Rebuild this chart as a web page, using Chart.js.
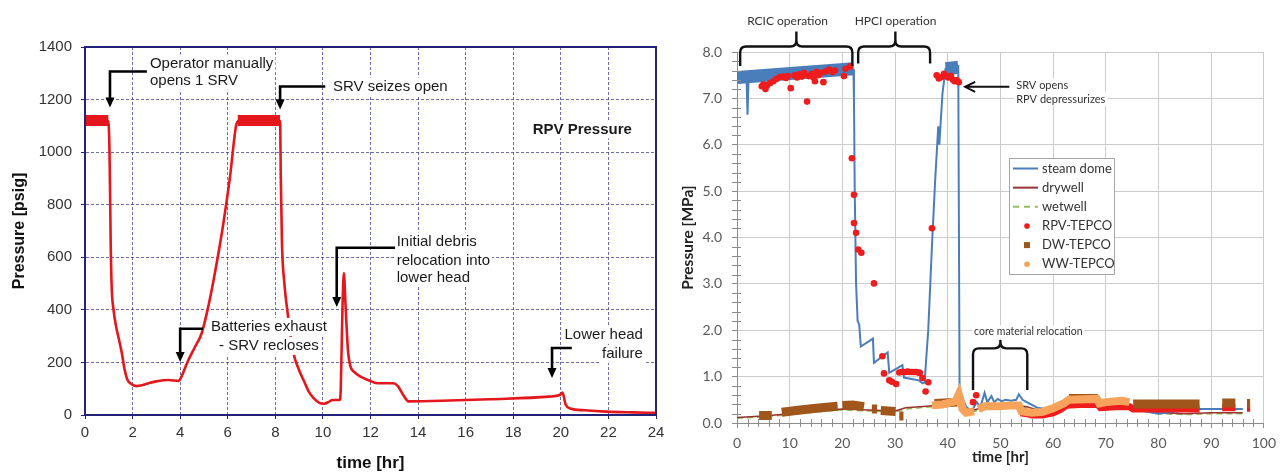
<!DOCTYPE html>
<html><head><meta charset="utf-8">
<script src="https://cdn.jsdelivr.net/npm/chart.js@4.4.1/dist/chart.umd.min.js"></script>
<style>
html,body{margin:0;padding:0;background:#fff;width:1283px;height:474px;overflow:hidden;}
#cL{position:absolute;left:0;top:0;}
#cR{position:absolute;left:670px;top:0;}
</style></head><body>
<canvas id="cL" width="670" height="474"></canvas>
<canvas id="cR" width="613" height="474"></canvas>
<script>
// ================= LEFT PANEL: RPV pressure [psig] vs time [hr] =================
const leftXTicks = [0,2,4,6,8,10,12,14,16,18,20,22,24];
const leftYTicks = [0,200,400,600,800,1000,1200,1400];
const leftTimeHr = [0,0.98,1.03,1.06,1.08,1.12,1.2,1.3,1.42,1.55,1.65,1.78,1.95,2.15,2.4,2.7,3.0,3.5,3.95,4.05,4.3,4.6,4.9,5.2,5.5,5.8,6.1,6.35,6.45,8.15,8.2,8.23,8.28,8.38,8.5,8.75,9.0,9.2,9.4,9.6,9.85,10.05,10.25,10.4,10.7,10.75,10.82,10.88,10.95,11.05,11.16,11.3,11.6,11.9,12.3,12.95,13.15,13.35,13.6,15,17,19.5,19.95,20.07,20.2,20.4,21,21.9,23,24];
const leftPsig   = [1118,1118,1000,800,650,490,400,340,290,235,180,135,118,110,113,122,128,133,130,145,200,255,310,420,560,720,910,1100,1118,1118,1118,900,650,500,400,240,170,130,90,65,46,43,50,57,57,100,400,540,420,250,184,165,145,133,121,121,110,80,52,54,60,70,76,85,40,25,18,13,10,8];
// noisy plateaus (drawn as a thick band)
const plateauTimeHr = [0,0.98,3,6.42,8.2];
const plateauPsig   = [1120,1120,null,1120,1120];

// left annotations (data coordinates)
const leftArrowCornerT = [1.05, 8.2, 4.0, 10.58, 19.63];
const leftArrowCornerP = [1307, 1250, 328, 636, 255];
const leftArrowEndT    = [2.6, 10.1, 4.96, 13.03, 20.46];
const leftArrowTipP    = [1170, 1162, 202, 411, 141];
const leftNoteLines = [["Operator manually","opens 1 SRV"],["SRV seizes open"],["RPV Pressure"],["Batteries exhaust","- SRV recloses"],["Initial debris","relocation into","lower head"],["Lower head","failure"]];
const leftNoteT     = [2.73, 10.42, 20.9, 7.73, 13.1, 23.45];
const leftNoteP     = [[1337,1272],[1250],[1086],[335,263],[660,588,522],[305,232]];
const leftNoteAlign = ['left','left','center','center','left','right'];
const leftNoteBold  = [false,false,true,false,false,false];

// ================= RIGHT PANEL: Pressure [MPa] vs time [hr] =================
const rightXTicks = [0,10,20,30,40,50,60,70,80,90,100];
const rightYTicks = [0,1,2,3,4,5,6,7,8];
const steamT = [0,0.5,0.8,1.2,1.8,2.0,2.2,3,10,20,22.1,22.2,22.35,22.6,22.9,23.2,23.5,25.8,26.0,28.6,28.9,31.4,31.7,34.5,35.2,35.6,36.3,37.0,37.6,38.2,38.4,39.0,39.6,42.0,42.1,42.25,42.6,43.5,44.5,45.5,46.2,47.0,47.5,48.3,48.8,49.5,50.2,51,52,53,53.5,54.2,55,57,60,65,70,75,80,87,96];
const steamP = [7.45,7.35,7.5,7.4,7.45,6.65,7.45,7.47,7.5,7.58,7.62,7.0,5.0,3.0,2.2,2.12,1.65,1.82,1.3,1.52,1.08,1.25,0.98,0.92,0.86,0.87,2.0,3.8,5.2,6.4,6.0,7.1,7.65,7.7,7.7,0.7,0.6,0.35,0.25,0.45,0.35,0.65,0.45,0.58,0.45,0.52,0.47,0.5,0.48,0.5,0.62,0.5,0.45,0.33,0.28,0.38,0.35,0.3,0.2,0.3,0.3];
const steamBandT = [0,22.1,30,39.6,42.0];
const steamBandP = [7.45,7.64,null,7.64,7.67];
const wellT     = [0,5,10,15,20,25,30,32,36,40,42,43,45,48,52,55,58,62,65,68,70,75,80,85,90,96];
const drywellP  = [0.12,0.15,0.2,0.26,0.3,0.28,0.26,0.33,0.36,0.4,0.5,0.3,0.28,0.38,0.4,0.35,0.25,0.38,0.5,0.48,0.42,0.38,0.22,0.2,0.22,0.22];
const wetwellP  = [0.1,0.13,0.18,0.24,0.28,0.26,0.24,0.3,0.34,0.38,0.45,0.28,0.25,0.35,0.37,0.33,0.22,0.35,0.48,0.45,0.4,0.35,0.2,0.18,0.2,0.2];
const rpvT = [4.7,5.0,5.4,5.7,6.3,6.9,7.5,8.1,8.7,9.3,9.6,10.2,10.9,11.4,11.8,12.3,12.7,13.3,13.6,14.2,14.5,14.8,15.1,15.4,15.9,16.4,16.8,17.5,18.1,18.6,20.3,20.6,21.5,
  21.8,22.2,22.2,22.6,23.0,23.6,26.0,27.6,27.9,28.9,29.4,30.2,
  30.8,31.2,31.6,32.0,32.4,32.8,33.2,33.6,34.0,34.4,34.7,35.2,35.8,36.3,37.0,
  37.9,38.3,38.8,39.3,39.7,40.1,40.6,41.0,41.3,41.7,42.1,44.8,45.4];
const rpvP = [7.26,7.3,7.2,7.28,7.33,7.37,7.42,7.46,7.47,7.44,7.48,7.22,7.5,7.45,7.52,7.47,7.55,6.93,7.48,7.53,7.45,7.37,7.57,7.5,7.55,7.35,7.58,7.62,7.57,7.6,7.48,7.64,7.69,
  5.71,4.92,4.31,4.1,3.74,3.67,3.01,1.44,1.07,0.92,0.89,0.84,
  1.09,1.1,1.1,1.1,1.11,1.1,1.1,1.1,1.1,1.09,1.08,0.97,0.68,0.88,4.2,
  7.5,7.43,7.46,7.53,7.48,7.45,7.48,7.4,7.37,7.39,7.35,0.45,0.6];
const rpvLateT = [53.8,55,56,58,60,61.5,62.5,65,68.5,69,72,74.5,75.2,87.8,90,92.1,94.6,95.5,96.8,97.4];
const rpvLateP = [0.22,0.2,0.17,0.17,0.22,0.3,0.38,0.4,0.4,0.33,0.35,0.35,0.3,0.3,null,0.33,0.33,null,0.32,0.32];
const dwT = [4.2,6.6,7.5,8.5,12,16,19.1,19.5,20.0,22,24.1,25,25.6,26.6,27,27.3,30.1,30.4,30.8,31.6,34,37.5,41.8,50,63,68.5,70,75.2,87.8,90,92.1,94.6,95.5,96.8,97.4];
const dwP = [0.16,0.16,null,0.23,0.28,0.33,0.36,null,0.38,0.39,0.35,null,0.3,0.3,null,0.27,0.25,null,0.15,0.15,null,0.42,0.45,null,0.53,0.53,null,0.41,0.41,null,0.43,0.43,null,0.42,0.42];
const wwT = [37,39,41.5,42.1,42.4,42.8,43.5,45,45.5,45.8,47,50,52,53.5,54,56,58,60,62,63,68.3,68.8,70,73,74.5];
const wwP = [0.38,0.4,0.47,0.62,0.5,0.3,0.22,0.25,null,0.3,0.36,0.36,0.38,0.38,0.25,0.22,0.24,0.32,0.42,0.5,0.52,0.42,0.45,0.48,0.45];

const legendNames = ['steam dome','drywell','wetwell','RPV-TEPCO','DW-TEPCO','WW-TEPCO'];
const C_STEAM = '#4a7ebb', C_DRY = '#943634', C_WET = '#9bbb59', C_RPV = '#ee1c1c', C_DW = '#a0561a', C_WW = '#f7a35c';

// right annotations (data coordinates)
const braceT0 = [0.6, 23.0, 44.8], braceT1 = [21.9, 36.65, 55.1], braceTc = [11.27, 30.06, 50.0];
const braceTop = [8.12, 8.12, 1.61], braceEnd = [7.7, 7.75, 0.71], bracePeak = [8.44, 8.44, 1.79];
const rightNoteLines = [["RCIC operation"],["HPCI operation"],["SRV opens","RPV depressurizes"],["core material relocation"]];
const rightNoteT = [9.6, 30.1, 53.0, 55.3];
const rightNoteP = [[8.67],[8.67],[7.27,6.98],[1.96]];
const rightNoteAlign = ['center','center','left','center'];
const rightNoteSize = [12, 12, 11, 10.5];
const srvArrowT = [51.7, 43.3], srvArrowP = 7.25;

const xy = (T, P) => T.map((t, i) => ({x: t, y: P[i]}));

function boxedText(ctx, lines, x, ys, align, font, color, size) {
  ctx.font = font; ctx.textAlign = align; ctx.textBaseline = 'middle';
  const h = size + 3;
  lines.forEach((s, i) => {
    const w = ctx.measureText(s).width;
    const l = align === 'left' ? x : (align === 'right' ? x - w : x - w / 2);
    ctx.fillStyle = '#fff'; ctx.fillRect(l - 2, ys[i] - h / 2, w + 4, h);
  });
  ctx.fillStyle = color;
  lines.forEach((s, i) => ctx.fillText(s, x, ys[i]));
}

// ---------- left plugin ----------
const leftDecor = {
  id: 'leftDecor',
  afterDraw(chart) {
    const {ctx, chartArea: a, scales: {x, y}} = chart;
    ctx.save();
    ctx.strokeStyle = '#23237a'; ctx.lineWidth = 2;
    ctx.strokeRect(a.left, a.top, a.right - a.left, a.bottom - a.top);
    leftNoteLines.forEach((lines, k) => {
      const f = (leftNoteBold[k] ? 'bold ' : '') + '15px "Liberation Sans", Arial, sans-serif';
      boxedText(ctx, lines, x.getPixelForValue(leftNoteT[k]), leftNoteP[k].map(p => y.getPixelForValue(p)), leftNoteAlign[k], f, '#1a1a1a', 15);
    });
    ctx.strokeStyle = '#000'; ctx.fillStyle = '#000'; ctx.lineWidth = 2.6; ctx.lineJoin = 'miter';
    leftArrowCornerT.forEach((tc, k) => {
      const xc = x.getPixelForValue(tc), yc = y.getPixelForValue(leftArrowCornerP[k]);
      const xe = x.getPixelForValue(leftArrowEndT[k]), yt = y.getPixelForValue(leftArrowTipP[k]);
      ctx.beginPath(); ctx.moveTo(xe, yc); ctx.lineTo(xc, yc); ctx.lineTo(xc, yt - 8); ctx.stroke();
      ctx.beginPath(); ctx.moveTo(xc - 4.5, yt - 10); ctx.lineTo(xc + 4.5, yt - 10); ctx.lineTo(xc, yt); ctx.closePath(); ctx.fill();
    });
    ctx.restore();
  }
};

// ---------- right plugin ----------
const rightDecor = {
  id: 'rightDecor',
  afterDraw(chart) {
    const {ctx, chartArea: a, scales: {x, y}} = chart;
    ctx.save();
    ctx.strokeStyle = '#8c8c8c'; ctx.lineWidth = 1; ctx.beginPath();
    for (let v = 2; v < 100; v += 2) { if (v % 10 === 0) continue; const px = Math.round(x.getPixelForValue(v)) + 0.5; ctx.moveTo(px, a.bottom - 4); ctx.lineTo(px, a.bottom + 4); }
    for (let k = 1; k < 40; k++) { if (k % 5 === 0) continue; const py = Math.round(y.getPixelForValue(k * 0.2)) + 0.5; ctx.moveTo(a.left - 5, py); ctx.lineTo(a.left + 4, py); }
    ctx.stroke();
    rightNoteLines.forEach((lines, k) => {
      const f = rightNoteSize[k] + 'px Lato, "Open Sans", sans-serif';
      boxedText(ctx, lines, x.getPixelForValue(rightNoteT[k]), rightNoteP[k].map(p => y.getPixelForValue(p)), rightNoteAlign[k], f, '#333', rightNoteSize[k]);
    });
    ctx.strokeStyle = '#111'; ctx.lineWidth = 2.4; ctx.lineCap = 'butt';
    braceT0.forEach((t0, k) => {
      const x0 = x.getPixelForValue(t0), x1 = x.getPixelForValue(braceT1[k]), xc = x.getPixelForValue(braceTc[k]);
      const yT = y.getPixelForValue(braceTop[k]), yE = y.getPixelForValue(braceEnd[k]), yP = y.getPixelForValue(bracePeak[k]);
      const r = 6;
      ctx.beginPath();
      ctx.moveTo(x0, yE); ctx.lineTo(x0, yT + r); ctx.quadraticCurveTo(x0, yT, x0 + r, yT);
      ctx.lineTo(xc - r, yT); ctx.quadraticCurveTo(xc, yT, xc, yT - r); ctx.lineTo(xc, yP);
      ctx.moveTo(x1, yE); ctx.lineTo(x1, yT + r); ctx.quadraticCurveTo(x1, yT, x1 - r, yT);
      ctx.lineTo(xc + r, yT); ctx.quadraticCurveTo(xc, yT, xc, yT - r);
      ctx.stroke();
    });
    const ax0 = x.getPixelForValue(srvArrowT[0]), ax1 = x.getPixelForValue(srvArrowT[1]), ay = y.getPixelForValue(srvArrowP);
    ctx.lineWidth = 2;
    ctx.beginPath(); ctx.moveTo(ax0, ay); ctx.lineTo(ax1, ay);
    ctx.moveTo(ax1 + 10, ay - 5); ctx.lineTo(ax1, ay); ctx.lineTo(ax1 + 10, ay + 5); ctx.stroke();
    const bx = a.left + 272, by = a.top + 106, bw = 105, bh = 116;
    ctx.fillStyle = '#fff'; ctx.fillRect(bx, by, bw, bh);
    ctx.strokeStyle = '#a6a6a6'; ctx.lineWidth = 1; ctx.strokeRect(bx + 0.5, by + 0.5, bw, bh);
    const colors = [C_STEAM, C_DRY, C_WET, C_RPV, C_DW, C_WW];
    legendNames.forEach((name, i) => {
      const ry = by + 10.5 + i * 19.15;
      ctx.setLineDash([]);
      if (i < 3) {
        ctx.strokeStyle = colors[i]; ctx.lineWidth = 2;
        if (i === 2) ctx.setLineDash([6, 5]);
        ctx.beginPath(); ctx.moveTo(bx + 4, ry); ctx.lineTo(bx + 29, ry); ctx.stroke();
        ctx.setLineDash([]);
      } else if (i === 4) {
        ctx.fillStyle = colors[i]; ctx.fillRect(bx + 15, ry - 3, 6, 6);
      } else {
        ctx.fillStyle = colors[i]; ctx.beginPath(); ctx.arc(bx + 18, ry, 2.8, 0, Math.PI * 2); ctx.fill();
      }
      ctx.fillStyle = '#333'; ctx.font = '13px Lato, "Open Sans", sans-serif'; ctx.textAlign = 'left'; ctx.textBaseline = 'middle';
      ctx.fillText(name, bx + 33, ry);
    });
    ctx.restore();
  }
};

// ---------- left chart ----------
new Chart(document.getElementById('cL'), {
  type: 'line',
  data: {
    datasets: [
      {data: xy(leftTimeHr, leftPsig), borderColor: '#e3171c', borderWidth: 2.6, pointRadius: 0, cubicInterpolationMode: 'monotone', fill: false},
      {data: xy(plateauTimeHr, plateauPsig), borderColor: '#e3171c', borderWidth: 11, pointRadius: 0, borderCapStyle: 'butt', fill: false, spanGaps: false}
    ]
  },
  options: {
    responsive: false, animation: false,
    layout: {padding: {top: 47, right: 14, left: 0, bottom: 0}},
    plugins: {legend: {display: false}, tooltip: {enabled: false}},
    scales: {
      x: {
        type: 'linear', min: 0, max: 24,
        afterBuildTicks: s => { s.ticks = leftXTicks.map(v => ({value: v})); },
        afterFit: s => { s.height = 59; },
        grid: {color: 'rgba(60,60,150,0.75)', lineWidth: 1, tickLength: 4, tickColor: '#23237a'},
        border: {color: '#23237a', width: 2, dash: [3, 2]},
        ticks: {autoSkip: false, maxRotation: 0, padding: 5, color: '#333', font: {family: '"Liberation Sans", Arial, sans-serif', size: 15}, callback: v => String(v)},
        title: {display: true, text: 'time [hr]', color: '#111', padding: {top: 0, bottom: 0}, font: {family: '"Liberation Sans", Arial, sans-serif', size: 17, weight: 'bold'}}
      },
      y: {
        type: 'linear', min: 0, max: 1400,
        afterBuildTicks: s => { s.ticks = leftYTicks.map(v => ({value: v})); },
        afterFit: s => { s.width = 85; },
        grid: {color: 'rgba(60,60,150,0.75)', lineWidth: 1, tickLength: 4, tickColor: '#23237a'},
        border: {color: '#23237a', width: 2, dash: [3, 2]},
        ticks: {autoSkip: false, padding: 9, color: '#333', font: {family: '"Liberation Sans", Arial, sans-serif', size: 15}, callback: v => String(v)},
        title: {display: true, text: 'Pressure [psig]', color: '#111', padding: {top: 10, bottom: 0}, font: {family: '"Liberation Sans", Arial, sans-serif', size: 16, weight: 'bold'}}
      }
    }
  },
  plugins: [leftDecor]
});

// ---------- right chart ----------
new Chart(document.getElementById('cR'), {
  type: 'line',
  data: {
    datasets: [
      {label: 'RPV-TEPCO', data: xy(rpvT, rpvP), showLine: false, pointRadius: 3.3, pointBorderWidth: 0, pointBackgroundColor: C_RPV, order: 0},
      {label: 'WW-TEPCO', data: xy(wwT, wwP), borderColor: C_WW, borderWidth: 8, pointRadius: 0, borderCapStyle: 'butt', spanGaps: false, order: 1},
      {label: 'DW-TEPCO', data: xy(dwT, dwP), borderColor: C_DW, borderWidth: 9, pointRadius: 0, borderCapStyle: 'butt', spanGaps: false, order: 2},
      {label: 'RPV-TEPCO late', data: xy(rpvLateT, rpvLateP), borderColor: C_RPV, borderWidth: 7, pointRadius: 0, borderCapStyle: 'butt', spanGaps: false, order: 3},
      {label: 'steam dome', data: xy(steamT, steamP), borderColor: C_STEAM, borderWidth: 2, pointRadius: 0, order: 4},
      {label: 'steam band', data: xy(steamBandT, steamBandP), borderColor: C_STEAM, borderWidth: 13, pointRadius: 0, borderCapStyle: 'butt', spanGaps: false, order: 5},
      {label: 'drywell', data: xy(wellT, drywellP), borderColor: C_DRY, borderWidth: 1.5, pointRadius: 0, order: 6},
      {label: 'wetwell', data: xy(wellT, wetwellP), borderColor: C_WET, borderWidth: 1.5, borderDash: [6, 4], pointRadius: 0, order: 7}
    ]
  },
  options: {
    responsive: false, animation: false,
    layout: {padding: {top: 52, right: 14, left: 0, bottom: 0}},
    plugins: {legend: {display: false}, tooltip: {enabled: false}},
    scales: {
      x: {
        type: 'linear', min: 0, max: 100,
        afterBuildTicks: s => { s.ticks = rightXTicks.map(v => ({value: v})); },
        afterFit: s => { s.height = 51; },
        grid: {color: '#cccccc', lineWidth: 1, tickLength: 5, tickColor: '#8c8c8c'},
        border: {color: '#8c8c8c', width: 1},
        ticks: {autoSkip: false, maxRotation: 0, padding: 7, color: '#595959', font: {family: 'Lato, "Open Sans", sans-serif', size: 14}, callback: v => String(v)},
        title: {display: true, text: 'time [hr]', color: '#222', padding: {top: 0, bottom: 8}, font: {family: 'Lato, "Open Sans", sans-serif', size: 15, weight: 'bold'}}
      },
      y: {
        type: 'linear', min: 0, max: 8,
        afterBuildTicks: s => { s.ticks = rightYTicks.map(v => ({value: v})); },
        afterFit: s => { s.width = 67; },
        grid: {color: '#cccccc', lineWidth: 1, tickLength: 5, tickColor: '#8c8c8c'},
        border: {color: '#8c8c8c', width: 1},
        ticks: {autoSkip: false, padding: 10, color: '#595959', font: {family: 'Lato, "Open Sans", sans-serif', size: 14}, callback: v => Number(v).toFixed(1)},
        title: {display: true, text: 'Pressure [MPa]', color: '#222', padding: {top: 9, bottom: 0}, font: {family: 'Lato, "Open Sans", sans-serif', size: 15.5, weight: 'bold'}}
      }
    }
  },
  plugins: [rightDecor]
});
</script>
</body></html>
